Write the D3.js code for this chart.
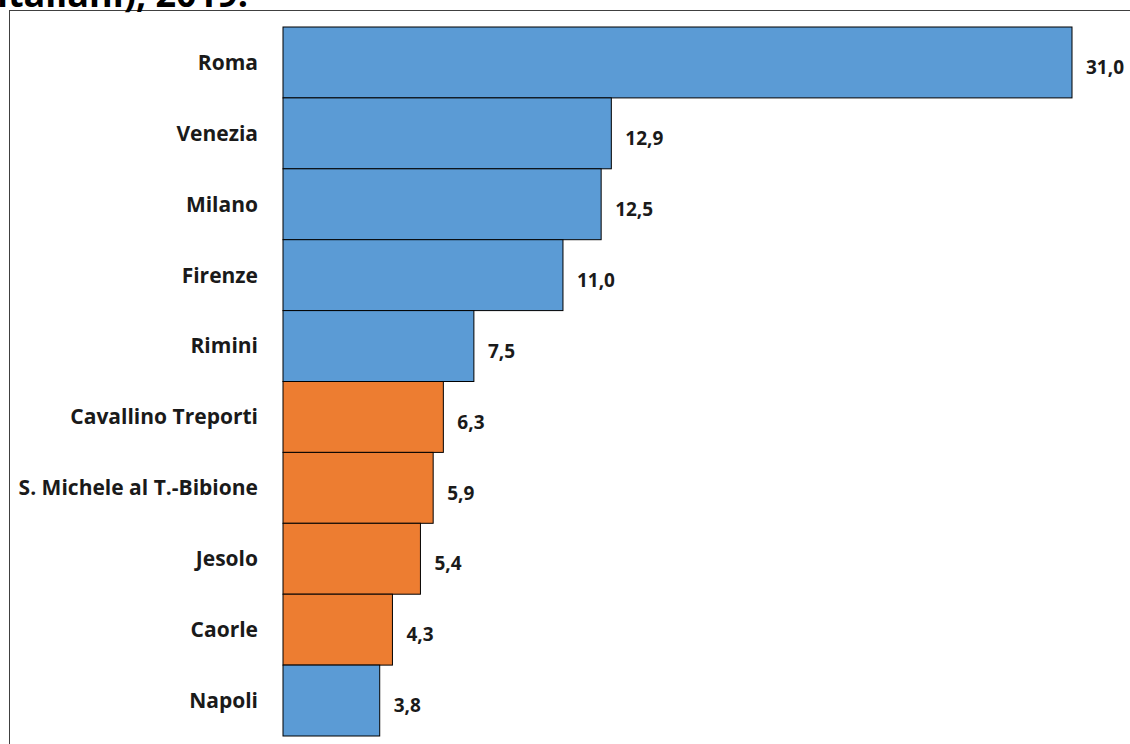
<!DOCTYPE html>
<html><head><meta charset="utf-8">
<script src="https://cdn.jsdelivr.net/npm/d3@7"></script>
<style>body{margin:0;background:#fff;} svg{display:block;}</style>
</head><body>
<svg id="c" width="1130" height="744"></svg>
<script>
const categories = ["Roma","Venezia","Milano","Firenze","Rimini","Cavallino Treporti","S. Michele al T.-Bibione","Jesolo","Caorle","Napoli"];
const values = [31.0,12.9,12.5,11.0,7.5,6.3,5.9,5.4,4.3,3.8];
const groups = ["city","city","city","city","city","beach","beach","beach","beach","city"];
const titleTail = "italiani), 2019.";

const svg = d3.select("#c");
const font = "'Open Sans', 'Noto Sans', sans-serif";

// frame
svg.append("rect").attr("x",9.5).attr("y",10.5).attr("width",1200).attr("height",800)
  .attr("fill","none").attr("stroke","#404040").attr("stroke-width",1);

// title tail (cut at top, as in the reference)
svg.append("text").attr("x",-3).attr("y",7).text(titleTail)
  .attr("font-family",font).attr("font-weight","bold").attr("font-size",36).attr("fill","#000");

const x = d3.scaleLinear().domain([0,31]).range([283,1072]);
const y = d3.scaleBand().domain(categories).range([27,736]).padding(0);
const color = d3.scaleOrdinal().domain(["city","beach"]).range(["#5B9BD5","#ED7D31"]);

const data = categories.map((c,i)=>({c,v:values[i],g:groups[i]}));

svg.append("g").selectAll("rect").data(data).join("rect")
  .attr("x",x(0)).attr("y",d=>y(d.c))
  .attr("width",d=>x(d.v)-x(0)).attr("height",y.bandwidth())
  .attr("fill",d=>color(d.g)).attr("stroke","#000").attr("stroke-width",1);

svg.append("g").selectAll("text").data(data).join("text")
  .attr("x",258).attr("y",d=>y(d.c)+y.bandwidth()/2).attr("dy","0.35em")
  .attr("text-anchor","end").attr("font-family",font).attr("font-weight","bold")
  .attr("font-size",21).attr("fill","#1a1a1a").text(d=>d.c);

const fmt = v => d3.format(".1f")(v).replace(".",",");
svg.append("g").selectAll("text").data(data).join("text")
  .attr("x",d=>x(d.v)+14).attr("y",d=>y(d.c)+y.bandwidth()/2+5).attr("dy","0.35em")
  .attr("font-family",font).attr("font-weight","bold")
  .attr("font-size",19).attr("fill","#1a1a1a").text(d=>fmt(d.v));
</script>
</body></html>
